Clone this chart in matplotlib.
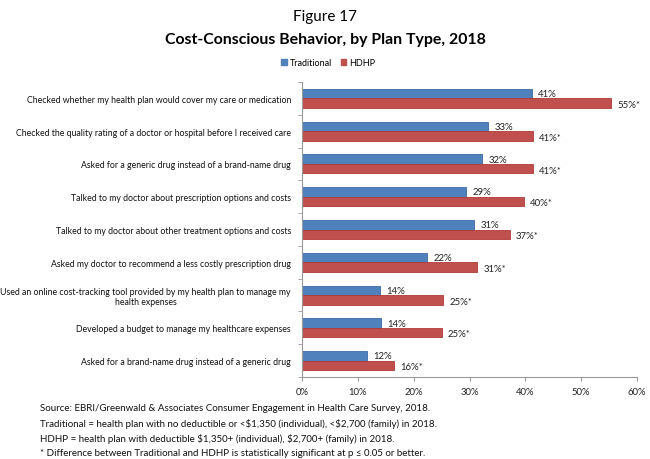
import matplotlib
matplotlib.use("Agg")
import matplotlib.pyplot as plt
import numpy as np
from matplotlib.patches import Patch

plt.rcParams['font.family'] = ['Lato', 'DejaVu Sans']
plt.rcParams['text.parse_math'] = False

categories = [
    "Checked whether my health plan would cover my care or medication",
    "Checked the quality rating of a doctor or hospital before I received care",
    "Asked for a generic drug instead of a brand-name drug",
    "Talked to my doctor about prescription options and costs",
    "Talked to my doctor about other treatment options and costs",
    "Asked my doctor to recommend a less costly prescription drug",
    "Used an online cost-tracking tool provided by my health plan to manage my\nhealth expenses",
    "Developed a budget to manage my healthcare expenses",
    "Asked for a brand-name drug instead of a generic drug",
]
traditional = [41.2, 33.3, 32.3, 29.4, 30.8, 22.4, 13.9, 14.2, 11.6]
hdhp = [55.3, 41.4, 41.4, 39.7, 37.2, 31.4, 25.3, 25.0, 16.4]
trad_labels = ["41%", "33%", "32%", "29%", "31%", "22%", "14%", "14%", "12%"]
hdhp_labels = ["55%*", "41%*", "41%*", "40%*", "37%*", "31%*", "25%*", "25%*", "16%*"]
xticks = [0, 10, 20, 30, 40, 50, 60]

blue = "#4F81BD"
red = "#C0504D"

fig = plt.figure(figsize=(6.5, 4.6), dpi=100)
ax = fig.add_axes([302/650, 1 - 378/460, (637 - 302)/650, (378 - 83)/460])

n = len(categories)
y = np.arange(n)
h = 0.29
ax.barh(y - h/2, traditional, height=h, color=blue, edgecolor="#3A6BA8", linewidth=0.6)
ax.barh(y + h/2, hdhp, height=h, color=red, edgecolor="#B03A37", linewidth=0.6)

for i in range(n):
    ax.annotate(trad_labels[i], (traditional[i], y[i] - h/2), xytext=(4.5, 0),
                textcoords="offset points", va="center", ha="left", fontsize=6.9, color="#222222")
    ax.annotate(hdhp_labels[i], (hdhp[i], y[i] + h/2), xytext=(4.5, -1),
                textcoords="offset points", va="center", ha="left", fontsize=6.9, color="#222222")

ax.set_ylim(n - 0.5, -0.5)
ax.set_xlim(0, 60)
ax.set_xticks(xticks)
ax.set_xticklabels([f"{t}%" for t in xticks], fontsize=6.8, color="#222222")
ax.set_yticks(y)
ax.set_yticklabels(categories, fontsize=6.3, color="#111111")
ax.set_yticks(np.arange(-0.5, n, 1), minor=True)
ax.tick_params(axis='y', which='major', length=0, pad=8)
ax.tick_params(axis='y', which='minor', length=3, color="#999999", direction='out')
ax.tick_params(axis='x', length=3, color="#999999", pad=4)
for s in ['top', 'right']:
    ax.spines[s].set_visible(False)
for s in ['left', 'bottom']:
    ax.spines[s].set_color("#999999")
    ax.spines[s].set_linewidth(0.8)
for lbl in ax.get_yticklabels():
    lbl.set_multialignment('center')

fig.text(0.5, 1 - 17/460, "Figure 17", ha="center", va="center", fontsize=11)
fig.text(0.5, 1 - 40/460, "Cost-Conscious Behavior, by Plan Type, 2018", ha="center",
         va="center", fontsize=11.4, fontweight="bold")

handles = [Patch(facecolor=blue, edgecolor=blue), Patch(facecolor=red, edgecolor=red)]
fig.legend(handles, ["Traditional", "HDHP"], loc="center", bbox_to_anchor=(328/650, 1 - 64/460),
           ncol=2, frameon=False, fontsize=6.5, handlelength=0.6, handleheight=0.6,
           handletextpad=0.3, columnspacing=1.0)

notes = [
    "Source: EBRI/Greenwald & Associates Consumer Engagement in Health Care Survey, 2018.",
    "Traditional = health plan with no deductible or <$1,350 (individual), <$2,700 (family) in 2018.",
    "HDHP = health plan with deductible $1,350+ (individual), $2,700+ (family) in 2018.",
    "* Difference between Traditional and HDHP is statistically significant at p \u2264 0.05 or better.",
]
for k, t in enumerate(notes):
    fig.text(40/650, 1 - (409 + 14.8*k)/460, t, ha="left", va="center", fontsize=7.0, color="#111111")

fig.savefig("out.png", dpi=100)
